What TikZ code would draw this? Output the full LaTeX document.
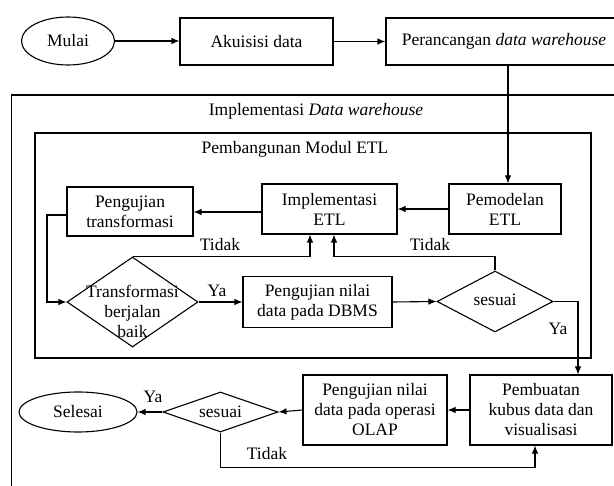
\documentclass[tikz,border=0pt]{standalone}
\usepackage{fontspec}
\setmainfont{Liberation Serif}
\usetikzlibrary{shapes.geometric,arrows.meta}
\begin{document}
\begin{tikzpicture}[x=1pt,y=-1pt,
  every node/.style={font=\fontsize{17.5}{20}\selectfont, align=center, inner sep=0pt},
  ln/.style={line width=1.1pt},
  arr/.style={ln, -{Latex[length=8pt,width=6.5pt]}},
  rbox/.style={draw, ln, rectangle},
  dia/.style={draw, ln, diamond},
  ell/.style={draw, ln, ellipse}]
\useasboundingbox (0,0) rectangle (614,486);
\clip (0,0) rectangle (614,486);

% group frames
\draw[ln] (11.7,95) rectangle (640,500);
\draw[ln] (35,133) rectangle (591,358);
\node (lblimpl) at (316,111) {Implementasi \textit{Data warehouse}};
\node (lblmodul) at (295,149) {Pembangunan Modul ETL};

% top row
\node[ell, minimum width=93pt, minimum height=48pt] (mulai) at (68,41) {Mulai};
\node[rbox, minimum width=153pt, minimum height=47pt] (aku) at (256.5,41.5) {Akuisisi data};
\node[rbox, minimum width=236pt, minimum height=47pt] (peran) at (504,41.5) {Perancangan \textit{data warehouse}};

% ETL module
\node[rbox, minimum width=112pt, minimum height=50pt] (pemod) at (505,209) {Pemodelan\\ETL};
\node[rbox, minimum width=135pt, minimum height=50pt] (impl) at (329.5,209) {Implementasi\\ETL};
\node[rbox, minimum width=126pt, minimum height=49pt] (ptrans) at (130,211.5) {Pengujian\\transformasi};
\node[dia, minimum width=131pt, minimum height=90pt] (dtrans) at (132.5,302) {};
\node (dtranstxt) at (132.5,311) {Transformasi\\berjalan\\baik};
\node[rbox, minimum width=149pt, minimum height=51pt] (pdbms) at (317.5,302) {Pengujian nilai\\data pada DBMS};
\node[dia, minimum width=116pt, minimum height=61pt] (ses1) at (495,301.5) {};
\node (ses1txt) at (495,300) {sesuai};

% bottom row
\node[rbox, minimum width=142pt, minimum height=70pt] (pbuat) at (541,410) {Pembuatan\\kubus data dan\\visualisasi};
\node[rbox, minimum width=144pt, minimum height=70pt] (polap) at (375,410) {Pengujian nilai\\data pada operasi\\OLAP};
\node[dia, minimum width=115pt, minimum height=40pt] (ses2) at (220.5,412) {};
\node (ses2txt) at (220.5,412) {sesuai};
\node[ell, minimum width=118pt, minimum height=40pt] (selesai) at (78,412) {Selesai};

% coordinates for routing
\coordinate (c1) at (47,302);

% connectors
\draw[arr] (mulai.east) -- (mulai.east -| aku.west);
\draw[arr] (aku.east) -- (aku.east -| peran.west);
\draw[arr] ([xshift=4pt]peran.south) -- ([xshift=3pt]pemod.north);
\draw[arr] (pemod.west) -- (impl.east);
\draw[arr] ([yshift=-3pt]impl.west) -- ([yshift=-3pt]impl.west -| ptrans.east);
\draw[arr] ([yshift=-3.5pt]ptrans.west) -| (c1) -- (dtrans.west);
\draw[arr] (dtrans.north) -| ([xshift=-19.5pt]impl.south);
\node (t1) at (220,245) {Tidak};
\draw[arr] (dtrans.east) -- (pdbms.west);
\node (y1) at (217,291) {Ya};
\draw[arr] (pdbms.east) -- (ses1.west);
\draw[arr] (ses1.north) -- ++(0,-14) -| ([xshift=4.5pt]impl.south);
\node (t2) at (430,245) {Tidak};
\draw[arr] (ses1.east) -| ([xshift=37pt]pbuat.north);
\node (y2) at (558,329) {Ya};
\draw[arr] (pbuat.west) -- (polap.east);
\draw[arr] (polap.west) -- (ses2.east);
\draw[arr] (ses2.west) -- (selesai.east);
\node (y3) at (153,397) {Ya};
\draw[arr] (ses2.south) -- ++(0,35) -| ([xshift=-6pt]pbuat.south);
\node (t3) at (267,454) {Tidak};
\end{tikzpicture}
\end{document}
